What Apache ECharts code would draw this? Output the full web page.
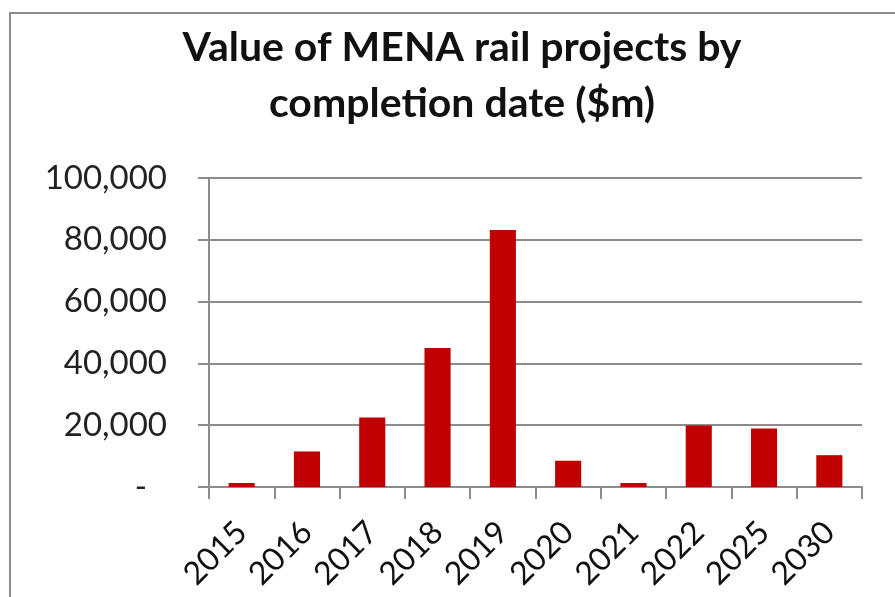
<!DOCTYPE html>
<html lang="en">
<head>
<meta charset="utf-8">
<title>MENA rail projects</title>
<script src="https://cdn.jsdelivr.net/npm/echarts@6/dist/echarts.min.js"></script>
<style>
  html, body { margin: 0; padding: 0; background: #fff; }
  #chart { width: 895px; height: 597px; }
</style>
</head>
<body>
<div id="chart"></div>
<script type="text/javascript">
  // completion years and project value ($m)
  let years = ['2015', '2016', '2017', '2018', '2019', '2020', '2021', '2022', '2025', '2030'];
  let values = [1300, 11500, 22500, 45000, 83200, 8500, 1300, 19900, 18900, 10300];
  let titleText = 'Value of MENA rail projects by\ncompletion date ($m)';

  let fontFam = 'Lato, "Open Sans", sans-serif';
  let Chart = echarts.init(document.getElementById('chart'));

  let option = {
    backgroundColor: '#fff',
    animation: false,
    graphic: [{
      type: 'rect',
      shape: { x: 10, y: 13, width: 900, height: 600 },
      style: { fill: 'none', stroke: '#8c8c8c', lineWidth: 2 }
    }],
    title: {
      text: titleText,
      left: 457,
      top: 15,
      textAlign: 'center',
      textStyle: {
        fontFamily: fontFam,
        fontSize: 41,
        fontWeight: 'bold',
        lineHeight: 56,
        color: '#111'
      }
    },
    grid: { left: 209, right: 33, top: 178, bottom: 110 },
    xAxis: {
      type: 'category',
      data: years,
      axisLine: { lineStyle: { color: '#8c8c8c', width: 2 } },
      axisTick: { show: true, length: 12, lineStyle: { color: '#8c8c8c', width: 2 } },
      axisLabel: {
        rotate: 45,
        margin: 40,
        fontFamily: fontFam,
        fontSize: 32,
        color: '#111'
      }
    },
    yAxis: {
      type: 'value',
      min: 0,
      max: 100000,
      interval: 20000,
      axisLine: { show: true, lineStyle: { color: '#8c8c8c', width: 2 } },
      axisTick: { show: true, length: 11, lineStyle: { color: '#8c8c8c', width: 2 } },
      splitLine: { lineStyle: { color: '#8c8c8c', width: 2 } },
      axisLabel: {
        margin: 42,
        fontFamily: fontFam,
        fontSize: 33,
        color: '#222',
        formatter: function (v) {
          return v === 0 ? '{d|-}' : v.toLocaleString('en-US');
        },
        rich: {
          d: { fontFamily: fontFam, fontSize: 33, color: '#222', padding: [0, 20, 0, 0] }
        }
      }
    },
    series: [{
      type: 'bar',
      data: values,
      barWidth: '40%',
      itemStyle: { color: '#c00000' }
    }]
  };

  Chart.setOption(option);
</script>
</body>
</html>
